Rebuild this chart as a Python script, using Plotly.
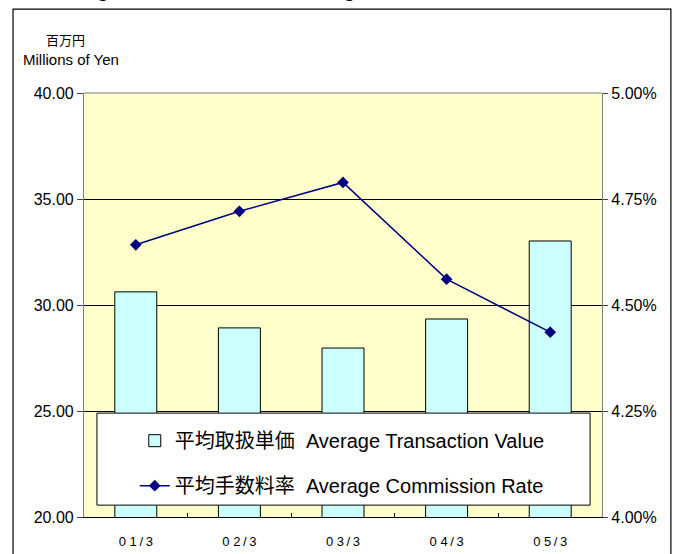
import plotly.graph_objects as go

# Data
periods = ["0 1\u2009/\u20093", "0 2\u2009/\u20093", "0 3\u2009/\u20093",
           "0 4\u2009/\u20093", "0 5\u2009/\u20093"]
avg_transaction_value = [30.62, 28.92, 27.97, 29.34, 33.02]   # millions of yen
avg_commission_rate = [0.04642, 0.04721, 0.04789, 0.04561, 0.04436]

bar_name = "平均取扱単価\u00a0\u00a0Average Transaction Value"
line_name = "平均手数料率\u00a0\u00a0Average Commission Rate"
chart_title = "Average Transaction Value/Average Commission Rate"

FONT = "Liberation Sans, Arial, Noto Sans CJK JP, sans-serif"

fig = go.Figure()

fig.add_trace(go.Bar(
    x=periods,
    y=avg_transaction_value,
    name=bar_name,
    legendgroup="a",
    width=0.405,
    marker=dict(color="#CCFFFF", line=dict(color="#000000", width=1)),
    yaxis="y",
))

fig.add_trace(go.Scatter(
    x=periods,
    y=avg_commission_rate,
    name=line_name,
    legendgroup="b",
    mode="lines+markers",
    line=dict(color="#000080", width=1.5),
    marker=dict(symbol="diamond", size=9, color="#000080"),
    yaxis="y2",
))

# outer chart frame, plot-area top edge and legend box
shapes = [
    dict(type="rect", xref="paper", yref="paper",
         x0=-0.137, x1=1.133, y0=-0.12, y1=1.198,
         line=dict(color="#000000", width=1.2), fillcolor="rgba(0,0,0,0)",
         layer="above"),
    dict(type="line", xref="paper", yref="paper",
         x0=0, x1=1, y0=1, y1=1,
         line=dict(color="#808080", width=1.2), layer="above"),
    dict(type="rect", xref="paper", yref="paper",
         x0=0.025, x1=0.977, y0=0.028, y1=0.245,
         line=dict(color="#000000", width=1), fillcolor="#FFFFFF",
         layer="above"),
]

annotations = [
    dict(text="百万円", xref="paper", yref="paper", x=-0.035, y=1.123,
         xanchor="center", yanchor="middle", showarrow=False,
         font=dict(family=FONT, size=13, color="#000000")),
    dict(text="Millions of Yen", xref="paper", yref="paper", x=-0.122, y=1.078,
         xanchor="left", yanchor="middle", showarrow=False,
         font=dict(family=FONT, size=15, color="#000000")),
    # chart title, mostly cut off at the top edge of the page
    dict(text="<b>" + chart_title + "</b>",
         xref="paper", yref="paper", x=0.394, y=1.2111,
         xanchor="center", yanchor="bottom", showarrow=False,
         font=dict(family=FONT, size=19, color="#000000")),
]

fig.update_layout(
    width=683,
    height=554,
    margin=dict(l=84, r=81, t=93, b=37),
    paper_bgcolor="#FFFFFF",
    plot_bgcolor="#FFFFCC",
    font=dict(family=FONT, size=16, color="#000000"),
    shapes=shapes,
    annotations=annotations,
    showlegend=True,
    legend=dict(
        x=0.098, y=0.226, xanchor="left", yanchor="top",
        bgcolor="rgba(0,0,0,0)", borderwidth=0,
        traceorder="grouped", tracegroupgap=16,
        font=dict(family=FONT, size=20, color="#000000"),
    ),
    xaxis=dict(
        type="category", automargin=False,
        showline=True, linecolor="#000000", linewidth=1.2,
        ticks="inside", tickson="boundaries", ticklen=4, tickcolor="#000000",
        ticklabelstandoff=12,
        tickfont=dict(family=FONT, size=13),
        showgrid=False,
    ),
    yaxis=dict(
        range=[20, 40], dtick=5, tickformat=".2f", automargin=False,
        showline=True, linecolor="#808080", linewidth=1.2,
        ticks="outside", ticklen=6, tickcolor="#404040",
        showgrid=True, gridcolor="#000000", gridwidth=1,
        zeroline=False,
        tickfont=dict(family=FONT, size=16),
    ),
    yaxis2=dict(
        overlaying="y", side="right", automargin=False,
        range=[0.04, 0.05], dtick=0.0025, tickformat=".2%",
        showline=True, linecolor="#808080", linewidth=1.2,
        ticks="outside", ticklen=5, tickcolor="#404040",
        showgrid=False, zeroline=False,
        tickfont=dict(family=FONT, size=16),
    ),
)

# drop the default page margin so the figure sits at the window's corner
fig.write_html("out.html", config={"displayModeBar": False},
               post_script="document.body.style.margin = '0';")
